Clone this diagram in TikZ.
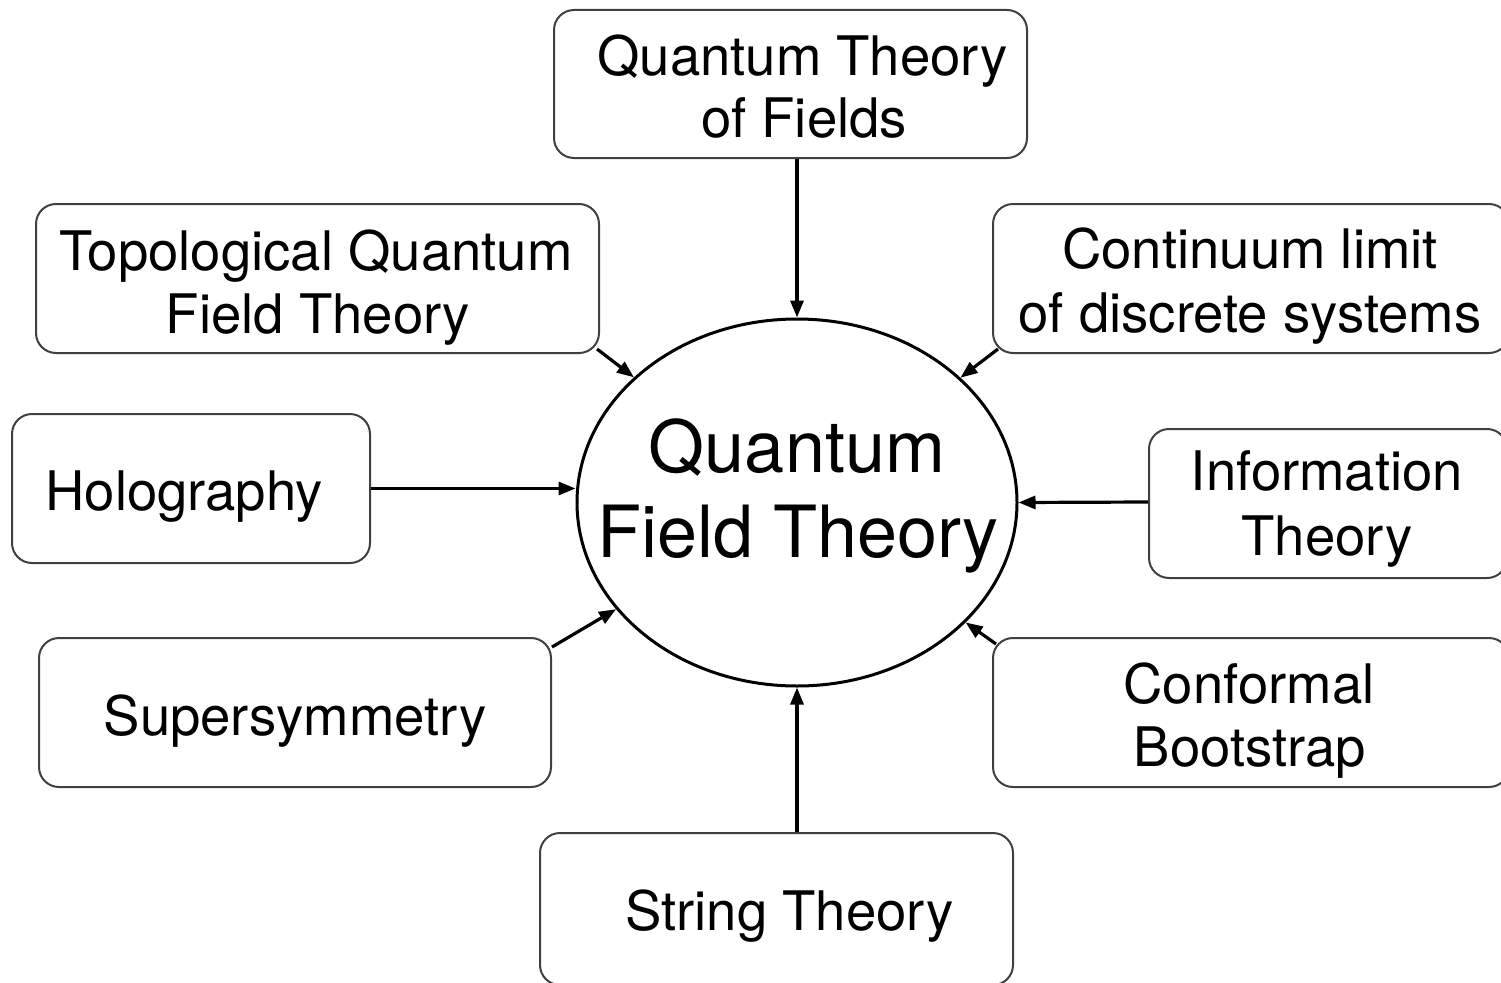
\documentclass[tikz,border=0pt]{standalone}
\usepackage{fontspec}
\setmainfont{TeX Gyre Heros}
\usetikzlibrary{shapes.geometric,arrows.meta}
\begin{document}
\begin{tikzpicture}[x=1pt,y=-1pt,
  box/.style={draw=black!75,line width=2pt,rounded corners=20pt,inner sep=0pt},
  txt/.style={anchor=base,inner sep=0pt,font=\fontsize{54.5}{63}\selectfont},
  bigtxt/.style={anchor=base,inner sep=0pt,font=\fontsize{72}{85}\selectfont},
  conn/.style={line width=3.2pt,-{Triangle[length=17pt,width=13pt]}}]
\useasboundingbox (0,0) rectangle (1501,982);
\clip (0,0) rectangle (1501,982);
% central ellipse
\node[draw,ellipse,line width=3pt,minimum width=440pt,minimum height=367pt,inner sep=0pt] (qft) at (797,502.5) {};
\node[bigtxt] (qftA) at (797,472) {Quantum};
\node[bigtxt] (qftB) at (798,557) {Field Theory};
% boxes
\node[box,minimum width=473pt,minimum height=148pt] (qtof) at (790.5,84) {};
\node[txt] (qtofA) at (802.5,75) {Quantum Theory};
\node[txt] (qtofB) at (804,137) {of Fields};
\node[box,minimum width=563pt,minimum height=149pt] (tqft) at (317.5,278.5) {};
\node[txt] (tqftA) at (316,270) {Topological Quantum};
\node[txt] (tqftB) at (318,333) {Field Theory};
\node[box,minimum width=516pt,minimum height=149pt] (cont) at (1251,278.5) {};
\node[txt] (contA) at (1250,268) {Continuum limit};
\node[txt] (contB) at (1250,332) {of discrete systems};
\node[box,minimum width=358pt,minimum height=149pt] (holo) at (191,488.5) {};
\node[txt] (holoA) at (184,510) {Holography};
\node[box,minimum width=358pt,minimum height=149pt] (info) at (1328,503.5) {};
\node[txt] (infoA) at (1327,490) {Information};
\node[txt] (infoB) at (1327,555) {Theory};
\node[box,minimum width=512pt,minimum height=149pt] (susy) at (295,712.5) {};
\node[txt] (susyA) at (295,735) {Supersymmetry};
\node[box,minimum width=516pt,minimum height=149pt] (conf) at (1251,712.5) {};
\node[txt] (confA) at (1249,703) {Conformal};
\node[txt] (confB) at (1250,766) {Bootstrap};
\node[box,minimum width=473pt,minimum height=152pt] (string) at (776.5,909) {};
\node[txt] (stringA) at (789.5,930) {String Theory};
% connectors
\draw[conn] (qtof.south -| qft.north) -- (qft.north);
\draw[conn] (string.north -| qft.south) -- (qft.south);
\draw[conn] (tqft.south east) ++(-3,-5) coordinate (tqftc) (tqftc) -- (qft);
\draw[conn] (cont.south west) ++(6,-5) coordinate (contc) (contc) -- (qft);
\draw[conn] (holo.east) -- (holo.east -| qft.west);
\draw[conn] (info.west |- 0,502) coordinate (infoc) (infoc) -- (qft.east);
\draw[conn] (susy.north east) ++(0,10) coordinate (susyc) (susyc) -- (qft);
\draw[conn] (conf.north west) ++(4,7) coordinate (confc) (confc) -- (qft);
\end{tikzpicture}
\end{document}
